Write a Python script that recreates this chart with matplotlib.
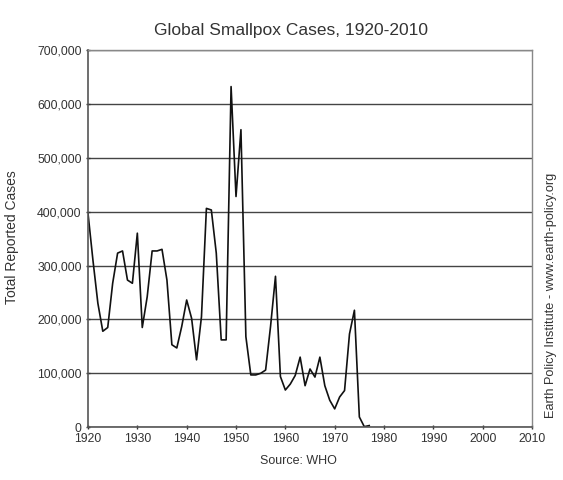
import matplotlib
matplotlib.use('Agg')
from matplotlib import pyplot as plt
from matplotlib.ticker import FuncFormatter

years = list(range(1920, 1978))
cases = [397000, 310000, 230000, 178000, 185000, 267000, 323000, 327000,
         273000, 267000, 360000, 185000, 242000, 327000, 327000, 330000,
         273000, 153000, 147000, 187000, 236000, 202000, 125000, 205000,
         406000, 403000, 323000, 162000, 162000, 632000, 428000, 552000,
         168000, 97000, 97000, 100000, 106000, 187000, 280000, 94000,
         69000, 80000, 96000, 130000, 77000, 108000, 93000, 130000,
         77000, 50000, 34000, 56000, 68000, 173000, 217000, 19000,
         1000, 3000]

x_ticks = list(range(1920, 2011, 10))
y_ticks = list(range(0, 700001, 100000))

plt.rcParams['font.family'] = ['Liberation Sans', 'DejaVu Sans']

fig = plt.figure(figsize=(5.63, 4.80), dpi=100)
ax = fig.add_axes([0.1563, 0.110, 0.7887, 0.786])

ax.plot(years, cases, color='#111111', linewidth=1.2)

ax.set_xlim(1920, 2010)
ax.set_ylim(0, 700000)
ax.set_xticks(x_ticks)
ax.set_yticks(y_ticks)
ax.yaxis.set_major_formatter(FuncFormatter(lambda v, p: f'{int(v):,}'))
ax.grid(axis='y', color='#444444', linewidth=1.0)
ax.set_axisbelow(True)

ax.tick_params(axis='both', labelsize=8.8, colors='#333333', length=3,
               width=1, direction='inout', pad=3)
for side in ['left', 'bottom']:
    ax.spines[side].set_color('#555555')
    ax.spines[side].set_linewidth(1.2)
for side in ['top', 'right']:
    ax.spines[side].set_color('#888888')
    ax.spines[side].set_linewidth(1.0)

fig.text(291 / 563, 1 - 30 / 480, 'Global Smallpox Cases, 1920-2010',
         ha='center', va='center', fontsize=12.5, color='#333333')
fig.text(12 / 563, 1 - 237 / 480, 'Total Reported Cases', rotation=90,
         ha='center', va='center', fontsize=10, color='#333333')
fig.text(298 / 563, 1 - 461 / 480, 'Source: WHO',
         ha='center', va='center', fontsize=9, color='#333333')
fig.text(551 / 563, 1 - 295 / 480,
         'Earth Policy Institute - www.earth-policy.org', rotation=90,
         ha='center', va='center', fontsize=9.2, color='#333333')

fig.savefig('out.png', dpi=100)
